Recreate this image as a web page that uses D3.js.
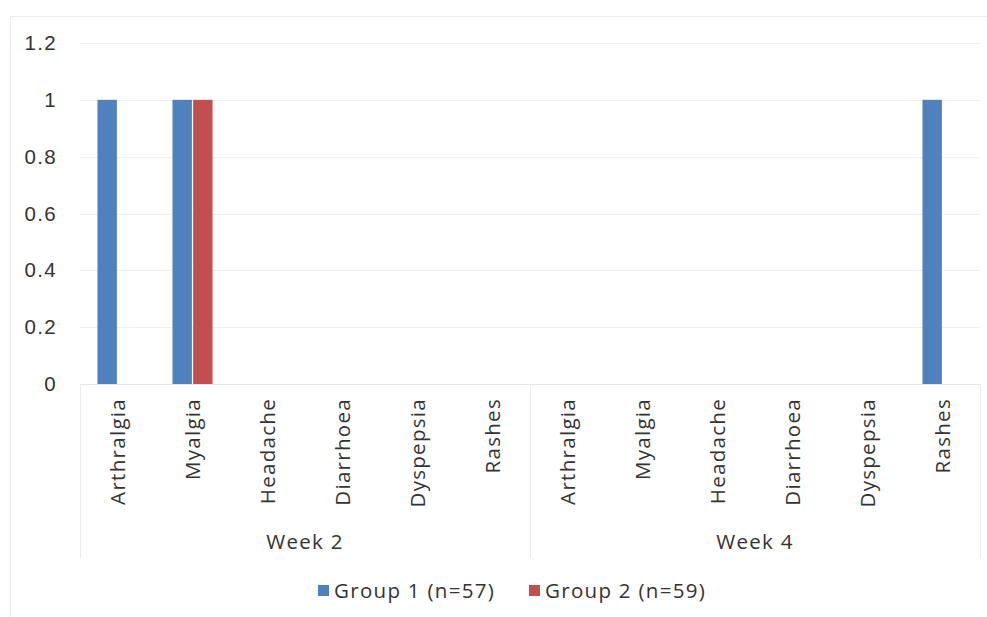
<!DOCTYPE html>
<html>
<head>
<meta charset="utf-8">
<script src="https://cdn.jsdelivr.net/npm/d3@7"></script>
<style>
  html, body { margin: 0; padding: 0; background: #fff; }
  svg { display: block; font-family: "Open Sans", "Noto Sans", sans-serif; }
  .lbl { font-size: 20.5px; letter-spacing: 1.3px; fill: #333; }
</style>
</head>
<body>
<svg id="chart" width="987" height="617"></svg>
<script>
// Adverse events reported per group, weeks 2 and 4
const weeks = ["Week 2", "Week 4"];
const symptoms = ["Arthralgia", "Myalgia", "Headache", "Diarrhoea", "Dyspepsia", "Rashes"];
const seriesNames = ["Group 1 (n=57)", "Group 2 (n=59)"];
const group1Week2 = [1, 1, 0, 0, 0, 0];
const group2Week2 = [0, 1, 0, 0, 0, 0];
const group1Week4 = [0, 0, 0, 0, 0, 1];
const group2Week4 = [0, 0, 0, 0, 0, 0];
const yTicks = [0, 0.2, 0.4, 0.6, 0.8, 1, 1.2];
const colors = ["#4F81BD", "#C0504D"];

const values = {
  "Week 2": [group1Week2, group2Week2],
  "Week 4": [group1Week4, group2Week4]
};

// flat list of (week, symptom) categories
const cats = [];
weeks.forEach(w => symptoms.forEach((s, i) => cats.push({ id: w + "|" + s, week: w, symptom: s, vals: values[w].map(a => a[i]) })));

const svg = d3.select("#chart");
const plotLeft = 80, plotRight = 980, plotTop = 43, plotBottom = 384;

// chart frame
svg.append("rect")
  .attr("x", 10.5).attr("y", 16.5).attr("width", 990).attr("height", 620)
  .attr("fill", "none").attr("stroke", "#ececec").attr("stroke-width", 1);

const y = d3.scaleLinear().domain([0, 1.2]).range([plotBottom, plotTop]);
const x0 = d3.scaleBand().domain(cats.map(c => c.id)).range([plotLeft, plotRight]);
const bw = x0.bandwidth();
const x1 = d3.scaleBand().domain(seriesNames).range([bw * 0.233, bw * 0.767]).paddingInner(0.06);

// horizontal gridlines
svg.append("g").selectAll("line").data(yTicks.filter(t => t > 0)).join("line")
  .attr("x1", plotLeft).attr("x2", plotRight)
  .attr("y1", d => Math.round(y(d)) + 0.5).attr("y2", d => Math.round(y(d)) + 0.5)
  .attr("stroke", "#f0f0f0").attr("stroke-width", 1);

// y axis labels
const yAxis = d3.axisLeft(y).tickValues(yTicks).tickFormat(d3.format("")).tickSize(0).tickPadding(0);
const yg = svg.append("g").attr("transform", `translate(57,0)`).call(yAxis);
yg.select(".domain").remove();
yg.selectAll("text").attr("class", "lbl").attr("font-size", null).attr("font-family", null)
  .attr("fill", null);

// bars
const gCats = svg.append("g").selectAll("g").data(cats).join("g")
  .attr("transform", d => `translate(${x0(d.id)},0)`);
gCats.selectAll("rect").data(d => d.vals.map((v, i) => ({ v, name: seriesNames[i], i }))).join("rect")
  .attr("x", d => x1(d.name))
  .attr("width", x1.bandwidth())
  .attr("y", d => y(d.v))
  .attr("height", d => y(0) - y(d.v))
  .attr("fill", d => colors[d.i]);

// category axis baseline and group separators
svg.append("line").attr("x1", plotLeft).attr("x2", plotRight)
  .attr("y1", plotBottom + 0.5).attr("y2", plotBottom + 0.5)
  .attr("stroke", "#e6e6e6");
const sepX = [plotLeft, plotLeft + bw * symptoms.length, plotRight];
svg.append("g").selectAll("line").data(sepX).join("line")
  .attr("x1", d => d + 0.5).attr("x2", d => d + 0.5)
  .attr("y1", plotBottom).attr("y2", 558)
  .attr("stroke", "#ececec");

// rotated symptom labels
svg.append("g").selectAll("text").data(cats).join("text")
  .attr("class", "lbl")
  .attr("transform", d => `translate(${x0(d.id) + bw / 2},398) rotate(-90)`)
  .attr("text-anchor", "end")
  .attr("dy", "0.35em")
  .text(d => d.symptom);

// week labels
svg.append("g").selectAll("text").data(weeks).join("text")
  .attr("class", "lbl")
  .attr("x", (d, i) => plotLeft + bw * symptoms.length * (i + 0.5))
  .attr("y", 549)
  .attr("text-anchor", "middle")
  .text(d => d);

// legend
const legendX = [318, 529];
const lg = svg.append("g").selectAll("g").data(seriesNames).join("g")
  .attr("transform", (d, i) => `translate(${legendX[i]},585)`);
lg.append("rect").attr("width", 11).attr("height", 11).attr("fill", (d, i) => colors[i]);
lg.append("text").attr("class", "lbl").attr("x", 16).attr("y", 6).attr("dy", "0.35em")
  .text(d => d);
</script>
</body>
</html>
